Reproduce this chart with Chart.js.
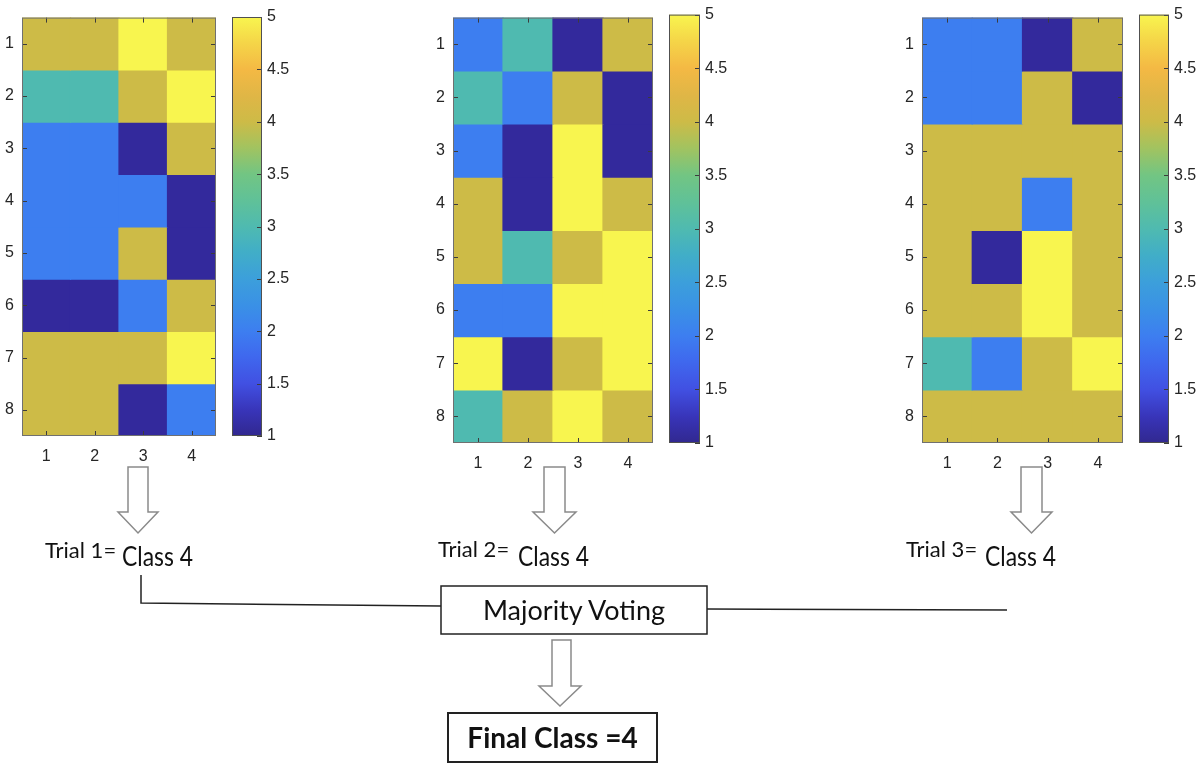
<!DOCTYPE html>
<html><head><meta charset="utf-8">
<script src="https://cdn.jsdelivr.net/npm/chart.js@4.4.1/dist/chart.umd.min.js"></script>
<style>
html,body{margin:0;padding:0;background:#fff;width:1200px;height:765px;overflow:hidden;position:relative;font-family:Lato,"Noto Sans",sans-serif}
canvas{position:absolute;top:0}
.t{position:absolute;white-space:nowrap;color:#111;line-height:1}
svg{position:absolute;left:0;top:0}
</style></head><body>
<canvas id="h1" width="230" height="470" style="left:0px"></canvas>
<canvas id="c1" width="74" height="470" style="left:226px"></canvas>
<canvas id="h2" width="232" height="477" style="left:431px"></canvas>
<canvas id="c2" width="77" height="477" style="left:663px"></canvas>
<canvas id="h3" width="232" height="477" style="left:900px"></canvas>
<canvas id="c3" width="67" height="477" style="left:1133px"></canvas>

<svg width="1200" height="765">
  <g fill="#fff" stroke="#8a8a8a" stroke-width="1.5">
    <polygon points="128,467 148,467 148,512 158,512 138,533 118,512 128,512"/>
    <polygon points="544,467 565,467 565,512 576,512 554.5,533 533,512 544,512"/>
    <polygon points="1021,467 1042,467 1042,512 1052,512 1031.5,533 1011,512 1021,512"/>
    <polygon points="552,640 571,640 571,686 581,686 560,706 539,686 552,686"/>
  </g>
  <g fill="none" stroke="#222" stroke-width="1.5">
    <polyline points="141,575 141,603 441,606"/>
    <line x1="707" y1="609" x2="1007" y2="610"/>
    <rect x="441" y="586" width="266" height="48"/>
    <rect x="448" y="713" width="209" height="49" stroke-width="2"/>
  </g>
</svg>

<div class="t" style="left:45px;top:539px;font-size:22px">Trial 1=</div>
<div class="t" style="left:122px;top:543px;font-size:26px;transform:scaleX(0.88);transform-origin:left">Class 4</div>
<div class="t" style="left:438px;top:538px;font-size:22px">Trial 2=</div>
<div class="t" style="left:518px;top:543px;font-size:26px;transform:scaleX(0.88);transform-origin:left">Class 4</div>
<div class="t" style="left:906px;top:538px;font-size:22px">Trial 3=</div>
<div class="t" style="left:985px;top:543px;font-size:26px;transform:scaleX(0.88);transform-origin:left">Class 4</div>
<div class="t" style="left:441px;width:266px;text-align:center;top:596px;font-size:27px">Majority Voting</div>
<div class="t" style="left:448px;width:209px;text-align:center;top:723px;font-size:28px;font-weight:bold">Final Class =4</div>

<script>
// ---- data ----
const rowLabels = ['1','2','3','4','5','6','7','8'];
const colLabels = ['1','2','3','4'];
const trial1 = [
  [4,4,5,4],
  [3,3,4,5],
  [2,2,1,4],
  [2,2,2,1],
  [2,2,4,1],
  [1,1,2,4],
  [4,4,4,5],
  [4,4,1,2]
];
const trial2 = [
  [2,3,1,4],
  [3,2,4,1],
  [2,1,5,1],
  [4,1,5,4],
  [4,3,4,5],
  [2,2,5,5],
  [5,1,4,5],
  [3,4,5,4]
];
const trial3 = [
  [2,2,1,4],
  [2,2,4,1],
  [4,4,4,4],
  [4,4,2,4],
  [4,1,5,4],
  [4,4,5,4],
  [3,2,4,5],
  [4,4,4,4]
];
const colorbarTicks = [1,1.5,2,2.5,3,3.5,4,4.5,5];
const colorbarRange = [1,5];
const classColors = {1:'#33299c',2:'#3d7ef0',3:'#4fbab0',4:'#cdbb47',5:'#f8f54f'};
const parulaStops = [
  [0,'#31288f'],[0.06,'#3834b8'],[0.125,'#4150e2'],[0.19,'#3f68ee'],[0.25,'#3d7ef0'],
  [0.31,'#3a90e6'],[0.375,'#3c9fdb'],[0.44,'#41aec7'],[0.5,'#4fbab0'],[0.56,'#5fc199'],
  [0.625,'#72c583'],[0.69,'#a3c35f'],[0.75,'#cdbb47'],[0.81,'#dfb646'],[0.875,'#f4b944'],
  [0.94,'#f5d648'],[1,'#f8f54f']
];

const tickFont = {family:'"Liberation Sans", Arial, sans-serif', size:16};
const cbFont = {family:'"Liberation Sans", Arial, sans-serif', size:16};
const tickColor = '#262626';

function line(ctx,x1,y1,x2,y2){ctx.beginPath();ctx.moveTo(x1,y1);ctx.lineTo(x2,y2);ctx.stroke();}

const heatFrame = {
  id:'heatFrame',
  afterDatasetsDraw(chart){
    const {ctx, chartArea:a, scales} = chart;
    ctx.save();
    ctx.strokeStyle = '#3c3c3c'; ctx.lineWidth = 1;
    scales.y.ticks.forEach(t=>{
      const y = Math.round(scales.y.getPixelForValue(t.value))+0.5;
      line(ctx,a.left,y,a.left+5,y); line(ctx,a.right-5,y,a.right,y);
    });
    scales.x.ticks.forEach((t,i)=>{
      const x = Math.round(scales.x.getPixelForTick(i))+0.5;
      line(ctx,x,a.bottom,x,a.bottom-5); line(ctx,x,a.top,x,a.top+5);
    });
    ctx.strokeStyle = '#707070';
    ctx.strokeRect(a.left+0.5,a.top+0.5,a.right-a.left-1,a.bottom-a.top-1);
    ctx.restore();
  }
};
const cbFrame = {
  id:'cbFrame',
  afterDatasetsDraw(chart){
    const {ctx, chartArea:a, scales} = chart;
    ctx.save();
    ctx.strokeStyle = '#3c3c3c'; ctx.lineWidth = 1;
    scales.y.ticks.forEach(t=>{
      const y = Math.round(scales.y.getPixelForValue(t.value))+0.5;
      line(ctx,a.right-5,y,a.right,y);
    });
    ctx.strokeStyle = '#505050';
    ctx.strokeRect(a.left+0.5,a.top+0.5,a.right-a.left-1,a.bottom-a.top-1);
    ctx.restore();
  }
};

function makeHeatmap(id, values, box){
  return new Chart(document.getElementById(id), {
    type:'bar',
    data:{
      labels: colLabels,
      datasets: values.map((row,i)=>({
        data: row.map(()=>[i+0.5, i+1.5]),
        backgroundColor: row.map(v=>classColors[v]),
        borderWidth:0, grouped:false, categoryPercentage:1, barPercentage:1, inflateAmount:0.6
      }))
    },
    options:{
      responsive:false, animation:false, devicePixelRatio:1,
      layout:{padding:{top:box.top, right:box.right, left:0, bottom:0}},
      plugins:{legend:{display:false}, tooltip:{enabled:false}},
      scales:{
        x:{type:'category', grid:{display:false, drawTicks:false}, border:{display:false},
           ticks:{font:tickFont, color:tickColor, padding:11, maxRotation:0},
           afterFit(s){s.height = box.xh;}},
        y:{type:'linear', reverse:true, min:0.5, max:rowLabels.length+0.5,
           grid:{display:false, drawTicks:false}, border:{display:false},
           afterBuildTicks(s){s.ticks = rowLabels.map((l,i)=>({value:i+1}));},
           ticks:{font:tickFont, color:tickColor, padding:8, callback:(v,i)=>rowLabels[i]},
           afterFit(s){s.width = box.yw;}}
      }
    },
    plugins:[heatFrame]
  });
}

function makeColorbar(id, box){
  return new Chart(document.getElementById(id), {
    type:'bar',
    data:{
      labels:[''],
      datasets:[{
        data:[colorbarRange],
        backgroundColor:(c)=>{
          const ch = c.chart, a = ch.chartArea;
          if(!a) return classColors[1];
          const g = ch.ctx.createLinearGradient(0,a.bottom,0,a.top);
          parulaStops.forEach(([o,col])=>g.addColorStop(o,col));
          return g;
        },
        borderWidth:0, categoryPercentage:1, barPercentage:1, inflateAmount:0
      }]
    },
    options:{
      responsive:false, animation:false, devicePixelRatio:1,
      layout:{padding:{top:box.top, bottom:box.bottom, left:6, right:0}},
      plugins:{legend:{display:false}, tooltip:{enabled:false}},
      scales:{
        x:{display:false},
        y:{position:'right', min:colorbarRange[0], max:colorbarRange[1],
           grid:{display:false, drawTicks:false}, border:{display:false},
           afterBuildTicks(s){s.ticks = colorbarTicks.map(v=>({value:v}));},
           ticks:{font:cbFont, color:tickColor, padding:5, callback:(v,i)=>String(colorbarTicks[i])},
           afterFit(s){s.width = box.yw;}}
      }
    },
    plugins:[cbFrame]
  });
}

makeHeatmap('h1', trial1, {top:17, right:14, yw:22, xh:34});
makeColorbar('c1', {top:17, bottom:34, yw:38});
makeHeatmap('h2', trial2, {top:11, right:10, yw:22, xh:34});
makeColorbar('c2', {top:11, bottom:34, yw:40});
makeHeatmap('h3', trial3, {top:11, right:9, yw:22, xh:34});
makeColorbar('c3', {top:11, bottom:34, yw:31});
</script>
</body></html>
